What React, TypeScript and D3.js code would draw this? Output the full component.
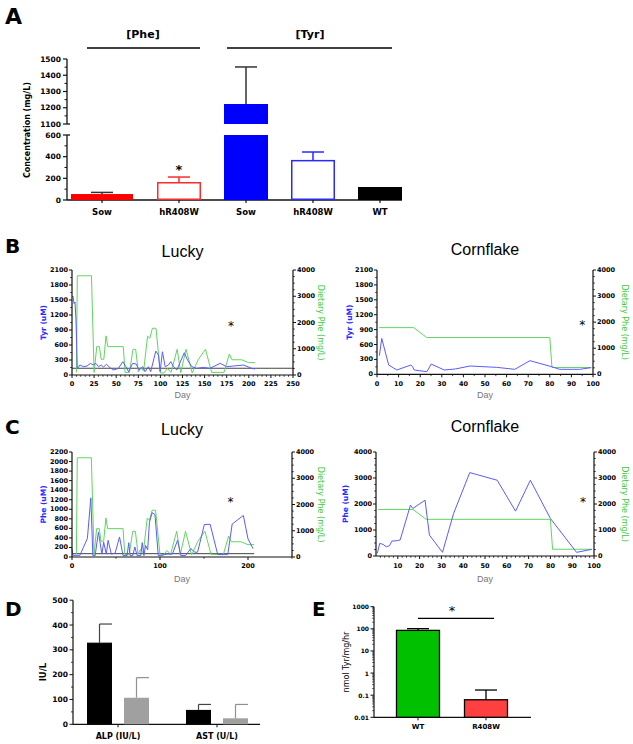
import React from 'react';
import * as d3 from 'd3';

const W = 633;
const H = 744;

// ---------- Panel A data ----------
const aCategories = ['Sow', 'hR408W', 'Sow', 'hR408W', 'WT'];
const aMeans = [55, 166, 1223, 370, 120];
const aErrTops = [70, 212, 1451, 443, 120];
const aLowTicks = [0, 200, 400, 600];
const aLowMinor = [100, 300, 500];
const aHighTicks = [1100, 1200, 1300, 1400, 1500];
const aHighMinor = [1150, 1250, 1350, 1450];

// ---------- Panels B / C data: [day, value] ----------
const luckyTyr: [number, number][] = [
  [0, 1560], [1.1, 1580], [2.3, 1430], [3.4, 1460], [4.5, 1100], [6, 130], [9, 200], [13, 166], [17, 180],
  [21, 233], [24, 200], [27, 233], [30, 166], [33, 200], [35.5, 160], [39, 213], [43, 146], [47, 100],
  [52.5, 133], [57.4, 266], [61, 166], [64, 66], [68.7, 233], [72.5, 220], [76, 100], [80, 166], [82.7, 66],
  [86.5, 166], [89, 66], [94.8, 478], [97.8, 400], [99.7, 66], [102.3, 465], [105.4, 166], [109, 200],
  [111.8, 266], [114.8, 166], [118.6, 100], [127, 445], [130.7, 300], [135.6, 166], [141, 133], [148.8, 153],
  [156, 133], [167.7, 233], [175, 166], [182.8, 180], [194, 200], [203.5, 133], [207, 120],
];
const luckyPhe: [number, number][] = [
  [0, 175], [1, 35], [9, 35], [17.5, 390], [21.4, 1240], [23.7, 30], [26.3, 30], [30, 520], [34, 60], [36, 310],
  [39, 60], [41, 350], [44.7, 60], [49, 80], [54, 420], [58, 30], [62.6, 30], [64.5, 300], [66, 30], [69, 30],
  [71.4, 210], [74, 30], [78, 30], [79.8, 300], [81.7, 30], [83.6, 240], [86, 150], [88, 730], [91.2, 930],
  [94.3, 890], [98, 30], [100.8, 30], [107, 60], [114, 60], [120, 350], [123.7, 30], [129, 30], [135, 175],
  [139.7, 100], [142.7, 100], [150.4, 680], [157, 685], [165.6, 50], [177, 50], [182, 690], [194.7, 870],
  [200, 380], [205.7, 175],
];
const luckyDiet: [number, number][] = [
  [5, 100], [6, 3780], [22, 3780], [25, 100], [28, 1080], [31, 1080], [33, 600], [36, 600], [38.5, 1490],
  [40.5, 1080], [58, 1080], [60, 100], [65, 100], [69, 980], [72, 980], [75, 120], [78, 300], [81, 150],
  [85.5, 1480], [88, 1400], [91, 1780], [95, 1780], [100, 80], [104, 80], [108, 250], [112, 100], [119, 980],
  [123, 80], [129, 980], [136, 80], [143, 600], [151, 980], [158, 100], [172, 100], [178, 800], [181, 580],
  [192, 580], [200, 470], [207, 470],
];
const cornTyr: [number, number][] = [
  [1.1, 374], [2.2, 722], [5.4, 187], [9.2, 87], [15.7, 187], [16.5, 150], [17.2, 87], [23.1, 53], [25.1, 207],
  [31.1, 87], [36.2, 107], [43.1, 167], [55.4, 140], [63.8, 100], [70.8, 274], [80.8, 154], [84.6, 100],
  [93.8, 100], [99.2, 134],
];
const cornPhe: [number, number][] = [
  [0.6, 100], [1.7, 486], [3.2, 447], [4.7, 358], [6.2, 396], [7.3, 575], [9.7, 588], [11.1, 620],
  [15.8, 1955], [16.9, 1828], [22.5, 2147], [24.5, 805], [30.5, 141], [35.6, 1636], [43, 3208], [55.6, 2914],
  [64, 1725], [70.8, 2914], [80, 1444], [92, 141], [99, 256],
];
const cornDiet: [number, number][] = [
  [1, 1790], [17, 1790], [23, 1410], [80, 1410], [81, 260], [99, 260],
];

// ---------- Panel D data ----------
const dCategories = ['ALP (IU/L)', 'AST (U/L)'];
const dBlackMeans = [329, 58];
const dBlackErrTops = [404, 80];
const dGrayMeans = [107, 24];
const dGrayErrTops = [188, 80];

// ---------- Panel E data ----------
const eCategories = ['WT', 'R408W'];
const eMeans = [85, 0.062];
const eErrTops = [102, 0.171];

// ---------- styles ----------
const BOLD = "'DejaVu Sans', sans-serif";
const SANS = "'Liberation Sans', Arial, sans-serif";
const LINE_BLUE = '#5b5bff';
const LINE_GREEN = '#5fd65f';
const LABEL_BLUE = '#2a2aff';
const LABEL_GREEN = '#33cc33';
const AX = '#111';
const aStyle = [
  { fill: '#ff0000', stroke: '#ff0000', err: '#333', w: 62 },
  { fill: '#ffffff', stroke: '#ff2a2a', err: '#ff2a2a', w: 44 },
  { fill: '#0000ff', stroke: '#0000ff', err: '#333', w: 44 },
  { fill: '#ffffff', stroke: '#2a2aff', err: '#2a2aff', w: 44 },
  { fill: '#000000', stroke: '#000000', err: '#000', w: 44 },
];

function range(a: number, b: number, s: number) {
  return d3.range(a, b + s / 2, s);
}

function PanelA() {
  const xA = d3.scalePoint<number>().domain(d3.range(1, aCategories.length)).range([179, 380]);
  const posA = (i: number) => (i === 0 ? xA(1)! - (xA(2)! - xA(1)!) - 10 + 0 : xA(i)!);
  const yLow = d3.scaleLinear().domain([0, 600]).range([200, 135]);
  const yHigh = d3.scaleLinear().domain([1100, 1500]).range([124, 59]);
  const yA = (v: number) => (v <= 600 ? yLow(v) : yHigh(v));
  const axX = 67;
  return (
    <g>
      <text x={5} y={24} fontFamily={BOLD} fontWeight="bold" fontSize={22}>A</text>
      <text x={143} y={38} textAnchor="middle" fontFamily={BOLD} fontWeight="bold" fontSize={11}>[Phe]</text>
      <line x1={87} x2={200} y1={48} y2={48} stroke="#000" strokeWidth={1.5} />
      <text x={310} y={38} textAnchor="middle" fontFamily={BOLD} fontWeight="bold" fontSize={11}>[Tyr]</text>
      <line x1={227} x2={392} y1={48} y2={48} stroke="#000" strokeWidth={1.5} />
      {/* axes */}
      <line x1={axX} x2={axX} y1={yHigh(1500)} y2={yHigh(1100)} stroke={AX} strokeWidth={1.3} />
      <line x1={axX} x2={axX + 3} y1={yHigh(1100)} y2={yHigh(1100)} stroke={AX} strokeWidth={1.3} />
      <line x1={axX} x2={axX} y1={yLow(600)} y2={yLow(0)} stroke={AX} strokeWidth={1.3} />
      <line x1={axX} x2={axX + 3} y1={yLow(600)} y2={yLow(600)} stroke={AX} strokeWidth={1.3} />
      <line x1={axX} x2={402} y1={yLow(0)} y2={yLow(0)} stroke={AX} strokeWidth={1.3} />
      {aHighTicks.map((t) => (
        <g key={'h' + t}>
          <line x1={axX - 4} x2={axX} y1={yHigh(t)} y2={yHigh(t)} stroke={AX} strokeWidth={1.2} />
          <text x={axX - 6} y={yHigh(t)} dominantBaseline="central" textAnchor="end" fontFamily={BOLD} fontWeight="bold" fontSize={7.5}>{t}</text>
        </g>
      ))}
      {aHighMinor.map((t) => (
        <line key={'hm' + t} x1={axX - 2.5} x2={axX} y1={yHigh(t)} y2={yHigh(t)} stroke={AX} strokeWidth={1} />
      ))}
      {aLowTicks.map((t) => (
        <g key={'l' + t}>
          <line x1={axX - 4} x2={axX} y1={yLow(t)} y2={yLow(t)} stroke={AX} strokeWidth={1.2} />
          <text x={axX - 6} y={yLow(t)} dominantBaseline="central" textAnchor="end" fontFamily={BOLD} fontWeight="bold" fontSize={7.5}>{t}</text>
        </g>
      ))}
      {aLowMinor.map((t) => (
        <line key={'lm' + t} x1={axX - 2.5} x2={axX} y1={yLow(t)} y2={yLow(t)} stroke={AX} strokeWidth={1} />
      ))}
      <text transform={`translate(27,130) rotate(-90)`} textAnchor="middle" dominantBaseline="central" fontFamily={BOLD} fontWeight="bold" fontSize={8}>Concentration (mg/L)</text>
      {/* bars */}
      {aCategories.map((c, i) => {
        const cx = posA(i);
        const st = aStyle[i];
        const bw = st.w;
        const m = aMeans[i];
        const e = aErrTops[i];
        const parts: [number, number][] = m <= 600 ? [[yLow(m), yLow(0)]] : [[yLow(600), yLow(0)], [yHigh(m), yHigh(1100)]];
        return (
          <g key={i}>
            {e > m && (
              <g stroke={st.err} strokeWidth={1.5}>
                <line x1={cx} x2={cx} y1={yA(m)} y2={yA(e)} />
                <line x1={cx - 11} x2={cx + 11} y1={yA(e)} y2={yA(e)} />
              </g>
            )}
            {parts.map(([y1, y2], k) => (
              <rect key={k} x={cx - bw / 2 + 0.75} y={y1 + 0.75} width={bw - 1.5} height={y2 - y1 - 1.5} fill={st.fill} stroke={st.stroke} strokeWidth={1.5} />
            ))}
            <line x1={cx} x2={cx} y1={200} y2={203} stroke={AX} strokeWidth={1.2} />
            <text x={cx} y={215} textAnchor="middle" fontFamily={BOLD} fontWeight="bold" fontSize={8.5}>{c}</text>
          </g>
        );
      })}
      <text x={posA(1)} y={yA(aErrTops[1]) - 3} textAnchor="middle" fontFamily={BOLD} fontWeight="bold" fontSize={13}>*</text>
    </g>
  );
}

type DualCfg = {
  x0: number; x1: number; yTop: number; yBot: number;
  xDomain: [number, number]; xLabels: number[]; xMinor: number[];
  lDomain: [number, number]; lLabels: number[]; lMinor: number[];
  rLabels: number[]; rMinor: number[];
  left: [number, number][]; right: [number, number][];
  refLine?: { value: number; to: number };
  title: string; titleY: number; yLabel: string; yLabelX: number; rLabelX: number;
  star: [number, number]; tickY: number; dayY: number;
};

function DualPanel({ c }: { c: DualCfg }) {
  const x = d3.scaleLinear().domain(c.xDomain).range([c.x0, c.x1]);
  const yl = d3.scaleLinear().domain(c.lDomain).range([c.yBot, c.yTop]);
  const yr = d3.scaleLinear().domain([0, 4000]).range([c.yBot, c.yTop]);
  const lineL = d3.line<[number, number]>().x((d) => x(d[0])).y((d) => yl(d[1]));
  const lineR = d3.line<[number, number]>().x((d) => x(d[0])).y((d) => yr(d[1]));
  const fs = 6.5;
  const midY = (c.yTop + c.yBot) / 2;
  return (
    <g>
      <text x={(c.x0 + c.x1) / 2} y={c.titleY} textAnchor="middle" fontFamily={SANS} fontSize={16}>{c.title}</text>
      {c.refLine && (
        <line x1={x(c.xDomain[0])} x2={x(c.refLine.to)} y1={yl(c.refLine.value)} y2={yl(c.refLine.value)} stroke="#444" strokeWidth={1} />
      )}
      <path d={lineR(c.right)!} fill="none" stroke={LINE_GREEN} strokeWidth={1} />
      <path d={lineL(c.left)!} fill="none" stroke={LINE_BLUE} strokeWidth={1} />
      {/* axes */}
      <line x1={c.x0} x2={c.x0} y1={c.yTop} y2={c.yBot} stroke={AX} strokeWidth={1.2} />
      <line x1={c.x1} x2={c.x1} y1={c.yTop} y2={c.yBot} stroke={AX} strokeWidth={1.2} />
      <line x1={c.x0} x2={c.x1} y1={c.yBot} y2={c.yBot} stroke={AX} strokeWidth={1.2} />
      {c.lLabels.map((t) => (
        <g key={'l' + t}>
          <line x1={c.x0 - 3} x2={c.x0} y1={yl(t)} y2={yl(t)} stroke={AX} strokeWidth={1} />
          <text x={c.x0 - 4} y={yl(t)} dominantBaseline="central" textAnchor="end" fontFamily={BOLD} fontWeight="bold" fontSize={fs}>{t}</text>
        </g>
      ))}
      {c.lMinor.map((t) => (
        <line key={'lm' + t} x1={c.x0 - 1.8} x2={c.x0} y1={yl(t)} y2={yl(t)} stroke={AX} strokeWidth={0.8} />
      ))}
      {c.rLabels.map((t) => (
        <g key={'r' + t}>
          <line x1={c.x1} x2={c.x1 + 3} y1={yr(t)} y2={yr(t)} stroke={AX} strokeWidth={1} />
          <text x={c.x1 + 4} y={yr(t)} dominantBaseline="central" textAnchor="start" fontFamily={BOLD} fontWeight="bold" fontSize={fs}>{t}</text>
        </g>
      ))}
      {c.rMinor.map((t) => (
        <line key={'rm' + t} x1={c.x1} x2={c.x1 + 1.8} y1={yr(t)} y2={yr(t)} stroke={AX} strokeWidth={0.8} />
      ))}
      {c.xLabels.map((t) => (
        <g key={'x' + t}>
          <line x1={x(t)} x2={x(t)} y1={c.yBot} y2={c.yBot + 3} stroke={AX} strokeWidth={1} />
          <text x={x(t)} y={c.tickY} textAnchor="middle" fontFamily={BOLD} fontWeight="bold" fontSize={fs}>{t}</text>
        </g>
      ))}
      {c.xMinor.map((t) => (
        <line key={'xm' + t} x1={x(t)} x2={x(t)} y1={c.yBot} y2={c.yBot + 1.8} stroke={AX} strokeWidth={0.8} />
      ))}
      <text x={(c.x0 + c.x1) / 2} y={c.dayY} textAnchor="middle" fontFamily={SANS} fontSize={9} fill="#777">Day</text>
      <text transform={`translate(${c.yLabelX},${midY}) rotate(-90)`} textAnchor="middle" dominantBaseline="central" fontFamily={BOLD} fontWeight="bold" fontSize={7.5} fill={LABEL_BLUE}>{c.yLabel}</text>
      <text transform={`translate(${c.rLabelX},${midY}) rotate(90)`} textAnchor="middle" dominantBaseline="central" fontFamily={BOLD} fontSize={8} fill={LABEL_GREEN}>Dietary Phe (mg/L)</text>
      <text x={x(c.star[0])} y={yr(c.star[1]) + 7} textAnchor="middle" fontFamily={BOLD} fontSize={12}>*</text>
    </g>
  );
}

function PanelD() {
  const x = d3.scaleBand<string>().domain(dCategories).range([68.5, 266.5]).paddingInner(0).paddingOuter(0);
  const inner = d3.scaleBand<string>().domain(['black', 'gray']).range([18.5, 80.5]).paddingInner(0.324);
  const y = d3.scaleLinear().domain([0, 500]).range([724.3, 600.2]);
  const ax = 73;
  const series = [
    { key: 'black', means: dBlackMeans, errs: dBlackErrTops, fill: '#000', stroke: '#000', err: '#444' },
    { key: 'gray', means: dGrayMeans, errs: dGrayErrTops, fill: '#a0a0a0', stroke: '#a0a0a0', err: '#909090' },
  ];
  return (
    <g>
      <text x={5} y={616} fontFamily={BOLD} fontWeight="bold" fontSize={20}>D</text>
      <line x1={ax} x2={ax} y1={y(500)} y2={y(0)} stroke={AX} strokeWidth={1.2} />
      <line x1={ax} x2={260} y1={y(0)} y2={y(0)} stroke={AX} strokeWidth={1.2} />
      {range(0, 500, 100).map((t) => (
        <g key={t}>
          <line x1={ax - 3.5} x2={ax} y1={y(t)} y2={y(t)} stroke={AX} strokeWidth={1} />
          <text x={ax - 5} y={y(t)} dominantBaseline="central" textAnchor="end" fontFamily={BOLD} fontWeight="bold" fontSize={7.5}>{t}</text>
        </g>
      ))}
      {range(50, 450, 100).map((t) => (
        <line key={'m' + t} x1={ax - 2} x2={ax} y1={y(t)} y2={y(t)} stroke={AX} strokeWidth={0.8} />
      ))}
      <text transform={`translate(43,672) rotate(-90)`} textAnchor="middle" dominantBaseline="central" fontFamily={BOLD} fontWeight="bold" fontSize={8.5}>IU/L</text>
      {dCategories.map((c, i) => {
        const b0 = x(c)!;
        return (
          <g key={c}>
            {series.map((s) => {
              const bx = b0 + inner(s.key)!;
              const w = inner.bandwidth();
              const cx = bx + w / 2;
              return (
                <g key={s.key}>
                  <line x1={cx} x2={cx} y1={y(s.means[i])} y2={y(s.errs[i])} stroke={s.err} strokeWidth={1.2} />
                  <line x1={cx} x2={cx + w / 2} y1={y(s.errs[i])} y2={y(s.errs[i])} stroke={s.err} strokeWidth={1.2} />
                  <rect x={bx + 0.6} y={y(s.means[i]) + 0.6} width={w - 1.2} height={y(0) - y(s.means[i]) - 1.2} fill={s.fill} stroke={s.stroke} strokeWidth={1.2} />
                </g>
              );
            })}
            <line x1={b0 + x.bandwidth() / 2} x2={b0 + x.bandwidth() / 2} y1={y(0)} y2={y(0) + 3} stroke={AX} strokeWidth={1} />
            <text x={b0 + x.bandwidth() / 2} y={739} textAnchor="middle" fontFamily={BOLD} fontWeight="bold" fontSize={8}>{c}</text>
          </g>
        );
      })}
    </g>
  );
}

function PanelE() {
  const x = d3.scalePoint<string>().domain(eCategories).range([418, 486]);
  const y = d3.scaleLog().domain([0.01, 1000]).range([717.3, 606.7]);
  const ax = 374;
  const bw = 43;
  const fills = ['#00c000', '#ff4040'];
  const majors = [0.01, 0.1, 1, 10, 100, 1000];
  const minors: number[] = [];
  majors.slice(0, -1).forEach((m) => d3.range(2, 10).forEach((k) => minors.push(m * k)));
  return (
    <g>
      <text x={312} y={616} fontFamily={BOLD} fontWeight="bold" fontSize={20}>E</text>
      <line x1={x('WT')!} x2={x('R408W')! + 8} y1={618.3} y2={618.3} stroke="#000" strokeWidth={1.3} />
      <text x={452} y={615} textAnchor="middle" fontFamily={BOLD} fontSize={13}>*</text>
      <line x1={ax} x2={ax} y1={y(1000)} y2={y(0.01)} stroke={AX} strokeWidth={1.2} />
      <line x1={ax} x2={531} y1={y(0.01)} y2={y(0.01)} stroke={AX} strokeWidth={1.2} />
      {majors.map((t) => (
        <g key={t}>
          <line x1={ax - 3.5} x2={ax} y1={y(t)} y2={y(t)} stroke={AX} strokeWidth={1} />
          <text x={ax - 5} y={y(t)} dominantBaseline="central" textAnchor="end" fontFamily={BOLD} fontWeight="bold" fontSize={6}>{String(t)}</text>
        </g>
      ))}
      {minors.map((t, i) => (
        <line key={'m' + i} x1={ax - 1.8} x2={ax} y1={y(t)} y2={y(t)} stroke={AX} strokeWidth={0.7} />
      ))}
      <text transform={`translate(346,662) rotate(-90)`} textAnchor="middle" dominantBaseline="central" fontFamily={BOLD} fontSize={8}>nmol Tyr/mg/hr</text>
      {eCategories.map((c, i) => {
        const cx = x(c)!;
        return (
          <g key={c}>
            <line x1={cx} x2={cx} y1={y(eMeans[i])} y2={y(eErrTops[i])} stroke="#000" strokeWidth={1.3} />
            <line x1={cx - 11} x2={cx + 11} y1={y(eErrTops[i])} y2={y(eErrTops[i])} stroke="#000" strokeWidth={1.3} />
            <rect x={cx - bw / 2} y={y(eMeans[i])} width={bw} height={y(0.01) - y(eMeans[i])} fill={fills[i]} stroke="#000" strokeWidth={1.3} />
            <line x1={cx} x2={cx} y1={y(0.01)} y2={y(0.01) + 3} stroke={AX} strokeWidth={1} />
            <text x={cx} y={729} textAnchor="middle" fontFamily={BOLD} fontWeight="bold" fontSize={7}>{c}</text>
          </g>
        );
      })}
    </g>
  );
}

export default function App() {
  const luckyB: DualCfg = {
    x0: 72, x1: 293, yTop: 270, yBot: 375,
    xDomain: [0, 250], xLabels: range(0, 250, 25), xMinor: range(5, 245, 5).filter((d) => d % 25 !== 0),
    lDomain: [0, 2100], lLabels: range(0, 2100, 300), lMinor: range(150, 1950, 300),
    rLabels: range(0, 4000, 1000), rMinor: range(250, 3750, 250).filter((d) => d % 1000 !== 0),
    left: luckyTyr, right: luckyDiet, refLine: { value: 135, to: 250 },
    title: 'Lucky', titleY: 256.5, yLabel: 'Tyr (uM)', yLabelX: 43, rLabelX: 320,
    star: [180, 2000], tickY: 386, dayY: 398,
  };
  const cornB: DualCfg = {
    x0: 377, x1: 593, yTop: 270, yBot: 374.3,
    xDomain: [0, 100], xLabels: range(0, 100, 10), xMinor: range(5, 95, 10),
    lDomain: [0, 2100], lLabels: range(0, 2100, 300), lMinor: range(150, 1950, 300),
    rLabels: range(0, 4000, 1000), rMinor: range(250, 3750, 250).filter((d) => d % 1000 !== 0),
    left: cornTyr, right: cornDiet,
    title: 'Cornflake', titleY: 255, yLabel: 'Tyr (uM)', yLabelX: 349, rLabelX: 624,
    star: [95, 2000], tickY: 386, dayY: 398,
  };
  const luckyC: DualCfg = {
    x0: 72, x1: 292, yTop: 452, yBot: 557,
    xDomain: [0, 250], xLabels: [0, 100, 200], xMinor: [50, 150, 250],
    lDomain: [0, 2200], lLabels: range(0, 2200, 200), lMinor: [],
    rLabels: range(0, 4000, 1000), rMinor: range(250, 3750, 250).filter((d) => d % 1000 !== 0),
    left: luckyPhe, right: luckyDiet, refLine: { value: 70, to: 207 },
    title: 'Lucky', titleY: 435, yLabel: 'Phe (uM)', yLabelX: 43, rLabelX: 320,
    star: [180, 2200], tickY: 568, dayY: 582,
  };
  const cornC: DualCfg = {
    x0: 376, x1: 594, yTop: 452, yBot: 556,
    xDomain: [0, 100], xLabels: range(10, 100, 10), xMinor: range(2, 98, 2).filter((d) => d % 10 !== 0),
    lDomain: [0, 4000], lLabels: range(0, 4000, 1000), lMinor: range(250, 3750, 250).filter((d) => d % 1000 !== 0),
    rLabels: range(0, 4000, 1000), rMinor: range(250, 3750, 250).filter((d) => d % 1000 !== 0),
    left: cornPhe, right: cornDiet,
    title: 'Cornflake', titleY: 432, yLabel: 'Phe (uM)', yLabelX: 345, rLabelX: 624,
    star: [95, 2200], tickY: 568, dayY: 582,
  };
  return (
    <svg width={W} height={H} viewBox={`0 0 ${W} ${H}`} style={{ position: 'absolute', left: 0, top: 0, background: '#fff' }}>
      <rect width={W} height={H} fill="#fff" />
      <PanelA />
      <text x={5} y={253} fontFamily={BOLD} fontWeight="bold" fontSize={20}>B</text>
      <text x={5} y={434} fontFamily={BOLD} fontWeight="bold" fontSize={20}>C</text>
      <DualPanel c={luckyB} />
      <DualPanel c={cornB} />
      <DualPanel c={luckyC} />
      <DualPanel c={cornC} />
      <PanelD />
      <PanelE />
    </svg>
  );
}
